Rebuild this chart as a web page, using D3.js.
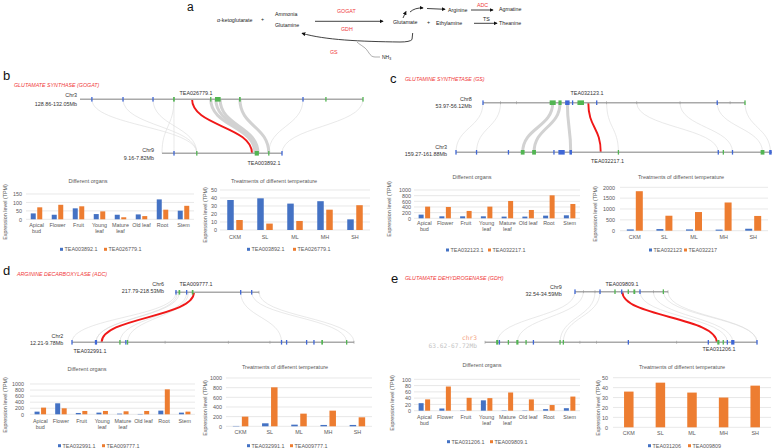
<!DOCTYPE html>
<html><head><meta charset="utf-8">
<script src="https://cdn.jsdelivr.net/npm/d3@7"></script>
<style>body{margin:0;background:#fff}svg{display:block}</style>
</head><body><svg id="c" width="773" height="448"></svg>
<script>
// ---------------- DATA ----------------
const organs = ["Apical bud","Flower","Fruit","Young leaf","Mature leaf","Old leaf","Root","Stem"];
const temps = ["CKM","SL","ML","MH","SH"];

// b GOGAT
const gogatNames = ["TEA003892.1","TEA026779.1"];
const gogatOrganBlue = [35,27,65,31,27,29,118,51];
const gogatOrganOrange = [71,86,77,47,12,19,57,80];
const gogatOrganTicks = [0,50,100,150];
const gogatTempBlue = [37.5,39.6,33,36,13.3];
const gogatTempOrange = [12.5,8,11.3,25.4,31];
const gogatTempTicks = [0,10,20,30,40,50];

// c GS
const gsOrganNames = ["TEA032123.1","TEA032217.1"];
const gsTempNames = ["TEA032123","TEA032217"];
const gsOrganBlue = [130,70,70,70,60,60,94,106];
const gsOrganOrange = [412,400,260,412,612,294,812,506];
const gsOrganTicks = [0,200,400,600,800,1000];
const gsTempBlue = [60,75,60,50,90];
const gsTempOrange = [1820,690,860,1300,680];
const gsTempTicks = [0,500,1000,1500,2000];

// d ADC
const adcNames = ["TEA032991.1","TEA009777.1"];
const adcOrganBlue = [88,363,44,55,22,11,121,55];
const adcOrganOrange = [220,198,110,110,99,110,824,88];
const adcOrganTicks = [0,200,400,600,800,1000];
const adcTempBlue = [7,62,34,28,28];
const adcTempOrange = [200,807,262,324,186];
const adcTempTicks = [0,200,400,600,800,1000];

// e GDH
const gdhOrganNames = ["TEA031206.1","TEA009809.1"];
const gdhTempNames = ["TEA031206","TEA009809"];
const gdhOrganBlue = [24,7,1,33,1,1,5,8];
const gdhOrganOrange = [36,77,41,40,58,36,18,45];
const gdhOrganTicks = [0,20,40,60,80,100];
const gdhTempBlue = [0,0,0,0,0];
const gdhTempOrange = [36,45,35,30,42];
const gdhTempTicks = [0,10,20,30,40,50];

// synteny: gene markers [relative position, type, span]; links [top pos, bottom pos, kind]
const gogatTopGenes = [[0.042,'b',0],[0.152,'b',0],[0.258,'b',0],[0.332,'g',0.006],[0.462,'g',0.004],[0.487,'g',0.02],[0.565,'g',0.006],[0.788,'b',0],[0.869,'g',0.004],[1.0,'g',0]];
const gogatBotGenes = [[0.1,'b',0],[0.29,'g',0],[0.79,'g',0.035],[0.89,'g',0],[1.0,'b',0]];
const gogatLinks = [[0.042,0.29,'t'],[0.152,0.29,'t'],[0.258,0.29,'t'],[0.332,0.0,'t'],[0.332,0.1,'t'],[0.462,0.775,'T'],[0.48,0.79,'T'],[0.495,0.8,'T'],[0.565,0.89,'T'],[0.788,0.89,'t'],[1.0,1.0,'t'],[0.396,0.75,'r']];

const gsTopGenes = [[0,'b',0],[0.067,'k',0],[0.128,'k',0],[0.266,'g',0.023],[0.294,'g',0.012],[0.322,'b',0.017],[0.342,'b',0],[0.373,'g',0.025],[0.434,'b',0],[0.472,'k',0],[0.587,'k',0],[0.752,'k',0],[0.894,'b',0],[0.943,'k',0],[1.0,'g',0]];
const gsBotGenes = [[0,'b',0],[0.065,'b',0],[0.166,'b',0],[0.211,'g',0.012],[0.247,'g',0.012],[0.31,'b',0],[0.334,'b',0.02],[0.363,'b',0.008],[0.514,'g',0],[0.83,'b',0],[0.846,'g',0],[0.875,'b',0],[0.97,'g',0.012],[0.995,'b',0.008]];
const gsLinks = [[0.0,0.0,'t'],[0.067,0.065,'t'],[0.266,0.211,'T'],[0.294,0.247,'T'],[0.322,0.363,'T'],[0.472,0.514,'t'],[0.587,0.83,'t'],[0.752,0.875,'t'],[0.894,0.97,'t'],[1.0,0.995,'t'],[0.402,0.458,'r']];

const adcTopGenes = [[0.012,'b',0],[0.052,'g',0.02],[0.139,'b',0],[0.21,'g',0.02],[0.782,'b',0],[0.913,'b',0],[1.0,'k',0]];
const adcBotGenes = [[0,'b',0],[0.085,'b',0.008],[0.17,'g',0],[0.191,'b',0],[0.197,'g',0],[0.33,'k',0],[0.554,'k',0],[0.702,'k',0],[0.743,'b',0],[0.761,'b',0],[0.832,'b',0],[0.858,'b',0],[0.887,'g',0.006],[0.974,'g',0],[1.0,'k',0]];
const adcLinks = [[0.012,0.0,'t'],[0.03,0.085,'t'],[0.052,0.085,'t'],[0.139,0.17,'t'],[0.16,0.197,'t'],[0.782,0.743,'t'],[0.913,0.974,'t'],[1.0,1.0,'t'],[0.226,0.105,'r']];

const gdhTopGenes = [[0,'b',0],[0.09,'k',0],[0.215,'k',0],[0.269,'b',0],[0.43,'g',0],[0.502,'b',0],[0.573,'g',0],[0.638,'g',0.02],[0.699,'b',0],[0.842,'k',0],[0.95,'g',0],[1.0,'k',0]];
const gdhBotGenes = [[0,'k',0],[0.045,'g',0.008],[0.053,'b',0],[0.086,'g',0],[0.119,'g',0.008],[0.151,'g',0],[0.178,'b',0],[0.276,'g',0],[0.288,'g',0],[0.349,'k',0],[0.41,'k',0],[0.527,'b',0],[0.705,'k',0],[0.821,'b',0],[0.858,'g',0.008],[0.876,'g',0],[0.891,'b',0],[0.911,'b',0.012],[1.0,'b',0]];
const gdhLinks = [[0,0.045,'t'],[0.09,0.119,'t'],[0.215,0.276,'t'],[0.269,0.288,'t'],[0.699,0.891,'t'],[0.842,0.911,'t'],[0.95,1.0,'t'],[1.0,1.0,'t'],[0.509,0.852,'r']];

// ---------------- DRAW ----------------
const FONT = "'Liberation Sans', Arial, sans-serif";
const COLORS = ["#4472C4","#ED7D31"];
const svg = d3.select("#c").attr("font-family", FONT);

function txt(g, s, x, y, o = {}) {
  return g.append("text").attr("x", x).attr("y", y).attr("dominant-baseline", "central")
    .attr("text-anchor", o.anchor || "start").attr("font-size", o.size || 5.5)
    .attr("fill", o.fill || "#222").attr("font-style", o.italic ? "italic" : null)
    .attr("font-family", o.family || FONT).text(s);
}

// ----- panel a -----
const defs = svg.append("defs");
defs.append("marker").attr("id","arr").attr("viewBox","0 0 6 6").attr("refX",5).attr("refY",3)
  .attr("markerWidth",4).attr("markerHeight",4).attr("markerUnits","userSpaceOnUse").attr("orient","auto")
  .append("path").attr("d","M0,0 L6,3 L0,6 z").attr("fill","#111");
const A = svg.append("g");
A.append("text").attr("x", 187).attr("y", 10.5).attr("font-size", 12).attr("fill", "#111").text("a");
[["α-ketoglutarate",217,20],["+",261,19],["Ammonia",275,14],["Glutamine",275,25],["Glutamate",393,22],
 ["+",427,22],["Ethylamine",436,22.5],["Arginine",448,9.7],["Agmatine",499,8.7],["Theanine",499,23],["TS",483,19]]
 .forEach(d => txt(A, d[0], d[1], d[2], {size: 5.3}));
[["GOGAT",337,11],["GDH",341,28.7],["ADC",477,4.7],["GS",330,52.3]].forEach(d => txt(A, d[0], d[1], d[2], {size: 5.3, fill: "#f03a3a"}));
const nh = txt(A, "NH", 382, 57, {size: 5});
nh.append("tspan").attr("font-size", 3.5).attr("dy", 1.5).text("3");
const arrows = ["M315,21.3 L383,21.3","M471,10 L493,10","M474,23.3 L497,23.3","M427,8.5 L445,9.3",
  "M410,12 Q415,7.5 423,8","M403,18 L406,11.5",
  "M412.7,33 L412,39.5 Q410,42 400,42 C360,41.5 325,40 302,33.3"];
arrows.forEach(p => A.append("path").attr("d", p).attr("fill","none").attr("stroke","#111").attr("stroke-width",0.8).attr("marker-end","url(#arr)"));
A.append("path").attr("d","M380,57 L375,57 C369,57 369,50 363,46.5 C361,45 359,44 357,42").attr("fill","none").attr("stroke","#333").attr("stroke-width",0.4);

// ----- panel letters & titles -----
[["b",3,75],["c",390,78.5],["d",3,270],["e",391,278]].forEach(d => txt(svg, d[0], d[1], d[2], {size: 13, fill: "#111"}));
[["GLUTAMATE SYNTHASE (GOGAT)",14,85],["GLUTAMINE SYNTHETASE (GS)",405,79.3],
 ["ARGININE DECARBOXYLASE (ADC)",17,274],["GLUTAMATE DEHYDROGENASE (GDH)",405,277.5]]
 .forEach(d => txt(svg, d[0], d[1], d[2], {size: 5.3, fill: "#f03a3a", italic: true}));

// ----- synteny -----
function synteny(o) {
  const g = svg.append("g");
  const xt = d3.scaleLinear().domain([0,1]).range([o.top.x0, o.top.x1]);
  const xb = d3.scaleLinear().domain([0,1]).range([o.bot.x0, o.bot.x1]);
  const link = d3.linkVertical().x(d => d[0]).y(d => d[1]);
  const order = {t:0, T:1, r:2};
  const links = o.links.slice().sort((a,b) => order[a[2]] - order[b[2]]);
  g.selectAll("path.lk").data(links).join("path")
    .attr("d", d => link({source: [xt(d[0]), o.top.y], target: [xb(d[1]), o.bot.y]}))
    .attr("fill","none")
    .attr("stroke", d => d[2] === 'r' ? "#f01818" : (d[2] === 'T' ? "#d2d2d2" : "#dadada"))
    .attr("stroke-width", d => d[2] === 'r' ? 1.9 : (d[2] === 'T' ? 3 : 0.6));
  [[o.top, xt, o.topGenes],[o.bot, xb, o.botGenes]].forEach(([c, sc, genes]) => {
    g.append("line").attr("x1", c.x0).attr("x2", c.x1).attr("y1", c.y).attr("y2", c.y)
      .attr("stroke","#a9a9a9").attr("stroke-width",1.4);
    g.selectAll(null).data(genes).join("rect")
      .attr("x", d => { const w = Math.max(d[1]==='k'?0.6:1.3, d[2]*(c.x1-c.x0)); return sc(d[0]) - w/2; })
      .attr("width", d => Math.max(d[1]==='k'?0.6:1.3, d[2]*(c.x1-c.x0)))
      .attr("y", d => c.y - (d[1]==='k' ? 1.5 : 2.3))
      .attr("height", d => d[1]==='k' ? 3 : 4.6)
      .attr("fill", d => d[1]==='b' ? "#3f67d6" : d[1]==='g' ? "#52b552" : "#999");
  });
  o.labels.forEach(l => txt(g, l[0], l[1], l[2], {anchor: l[3], size: l[4] || 5.4, fill: l[5] || "#333", family: l[6]}));
}

synteny({top:{x0:80,x1:363,y:99.3}, bot:{x0:162,x1:282,y:153.3}, topGenes:gogatTopGenes, botGenes:gogatBotGenes, links:gogatLinks,
  labels:[["Chr3",77,95,"end"],["128.86-132.05Mb",77,104,"end"],["TEA026779.1",196,93.3,"middle"],
          ["Chr9",154,150,"end"],["9.16-7.82Mb",154,157.5,"end"],["TEA003892.1",264,162.7,"middle"]]});
synteny({top:{x0:483,x1:745,y:102.7}, bot:{x0:456,x1:772,y:152.3}, topGenes:gsTopGenes, botGenes:gsBotGenes, links:gsLinks,
  labels:[["Chr8",471.7,99,"end"],["53.97-56.12Mb",471.7,105.5,"end"],["TEA032123.1",587,92.7,"middle"],
          ["Chr3",447,147.3,"end"],["159.27-161.88Mb",447,153.8,"end"],["TEA032217.1",607.5,160.5,"middle"]]});
synteny({top:{x0:175,x1:259,y:292.3}, bot:{x0:72,x1:354,y:342.3}, topGenes:adcTopGenes, botGenes:adcBotGenes, links:adcLinks,
  labels:[["Chr6",164,283.5,"end"],["217.79-218.53Mb",164,290.7,"end"],["TEA009777.1",196,284,"middle"],
          ["Chr2",63.3,336.2,"end"],["12.21-9.78Mb",63.3,342.5,"end"],["TEA032991.1",90,350.5,"middle"]]});
synteny({top:{x0:575,x1:668,y:291.7}, bot:{x0:485,x1:757,y:342.3}, topGenes:gdhTopGenes, botGenes:gdhBotGenes, links:gdhLinks,
  labels:[["Chr9",561.7,286.5,"end"],["32.54-34.59Mb",561.7,294,"end"],["TEA009809.1",622,283.5,"middle"],
          ["chr3",477,337.7,"end",6.2,"#f4a07e","'DejaVu Sans Mono', monospace"],
          ["63.62-67.72Mb",477,345,"end",6.2,"#c4c4c4","'DejaVu Sans Mono', monospace"],
          ["TEA031206.1",719,348.5,"middle"]]});

// ----- bar charts -----
function barChart(o) {
  const g = svg.append("g");
  const x = d3.scaleBand().domain(o.cats).range([o.x0, o.x1]);
  const y = d3.scaleLinear().domain([0, o.ticks[o.ticks.length-1]]).range([o.y0, o.yTop]);
  g.selectAll("line.grid").data(o.ticks).join("line")
    .attr("x1", o.x0).attr("x2", o.x1).attr("y1", d => y(d)).attr("y2", d => y(d))
    .attr("stroke", "#d9d9d9").attr("stroke-width", 0.6);
  const ax = g.append("g").attr("transform", `translate(${o.tickX},0)`)
    .call(d3.axisLeft(y).tickValues(o.ticks).tickFormat(d3.format("d")).tickSize(0).tickPadding(0));
  ax.select(".domain").remove();
  ax.selectAll("text").attr("font-size", 5.4).attr("fill", "#595959").attr("font-family", FONT);
  [o.blue, o.orange].forEach((arr, si) => {
    g.append("g").selectAll("rect").data(arr).join("rect")
      .attr("x", (d, i) => x(o.cats[i]) + x.bandwidth()/2 + (si === 0 ? -o.gap/2 - o.bw : o.gap/2))
      .attr("width", o.bw).attr("y", d => y(d)).attr("height", d => y(0) - y(d))
      .attr("fill", COLORS[si]);
  });
  o.cats.forEach(c => {
    const lines = c.length > 8 ? c.split(" ") : [c];
    lines.forEach((ln, li) => txt(g, ln, x(c) + x.bandwidth()/2, o.y0 + o.labOff + li*6, {anchor: "middle", size: 5.4, fill: "#595959"}));
  });
  txt(g, o.title, o.titleX, o.titleY, {anchor: "middle", size: 5.5, fill: "#595959"});
  g.append("text").attr("transform", `translate(${o.ylabX},${o.ylabY}) rotate(-90)`)
    .attr("text-anchor", "middle").attr("dominant-baseline", "central")
    .attr("font-size", 5.4).attr("fill", "#595959").text("Expression level (TPM)");
  o.names.forEach((n, si) => {
    g.append("rect").attr("x", o.legX[si]).attr("y", o.legY - 1.5).attr("width", 3).attr("height", 3).attr("fill", COLORS[si]);
    txt(g, n, o.legX[si] + 4.5, o.legY, {size: 5.4, fill: "#595959"});
  });
}

const ORG = "Different organs", TMP = "Treatments of different temperature";
barChart({cats:organs, blue:gogatOrganBlue, orange:gogatOrganOrange, ticks:gogatOrganTicks, names:gogatNames,
  x0:26, x1:194, y0:219.3, yTop:194, tickX:22, labOff:6, title:ORG, titleX:88, titleY:181, ylabX:5, ylabY:212, legY:249.3, legX:[60,104], bw:5, gap:1.5});
barChart({cats:temps, blue:gogatTempBlue, orange:gogatTempOrange, ticks:gogatTempTicks, names:gogatNames,
  x0:220, x1:370, y0:230, yTop:190, tickX:217, labOff:6.7, title:TMP, titleX:274, titleY:181, ylabX:205, ylabY:215, legY:249.3, legX:[247,293], bw:6.5, gap:2.5});
barChart({cats:organs, blue:gsOrganBlue, orange:gsOrganOrange, ticks:gsOrganTicks, names:gsOrganNames,
  x0:414, x1:580, y0:218.3, yTop:190, tickX:411, labOff:5, title:ORG, titleX:472, titleY:177, ylabX:389, ylabY:209, legY:250, legX:[446,488], bw:5, gap:1.5});
barChart({cats:temps, blue:gsTempBlue, orange:gsTempOrange, ticks:gsTempTicks, names:gsTempNames,
  x0:620, x1:768, y0:230.7, yTop:187.3, tickX:615, labOff:6.6, title:TMP, titleX:681, titleY:177, ylabX:595, ylabY:214, legY:250, legX:[649,684], bw:7, gap:2});
barChart({cats:organs, blue:adcOrganBlue, orange:adcOrganOrange, ticks:adcOrganTicks, names:adcNames,
  x0:30, x1:195, y0:414.3, yTop:384, tickX:24, labOff:6.4, title:ORG, titleX:87, titleY:369, ylabX:5, ylabY:405, legY:445.7, legX:[58,102], bw:5, gap:1.5});
barChart({cats:temps, blue:adcTempBlue, orange:adcTempOrange, ticks:adcTempTicks, names:adcNames,
  x0:226, x1:372, y0:426.3, yTop:378, tickX:222, labOff:5.7, title:TMP, titleX:285, titleY:366.7, ylabX:205, ylabY:408, legY:445.7, legX:[247,290], bw:6.5, gap:2.5});
barChart({cats:organs, blue:gdhOrganBlue, orange:gdhOrganOrange, ticks:gdhOrganTicks, names:gdhOrganNames,
  x0:414, x1:580, y0:410.7, yTop:379.3, tickX:411, labOff:6, title:ORG, titleX:482, titleY:365, ylabX:392, ylabY:403, legY:441.7, legX:[447,490], bw:5, gap:1.5});
barChart({cats:temps, blue:gdhTempBlue, orange:gdhTempOrange, ticks:gdhTempTicks, names:gdhTempNames,
  x0:613, x1:771, y0:427.3, yTop:377.7, tickX:608, labOff:6, title:TMP, titleX:682, titleY:366.7, ylabX:598, ylabY:408, legY:445.7, legX:[648,688], bw:9.5, gap:-9.5});
</script></body></html>
